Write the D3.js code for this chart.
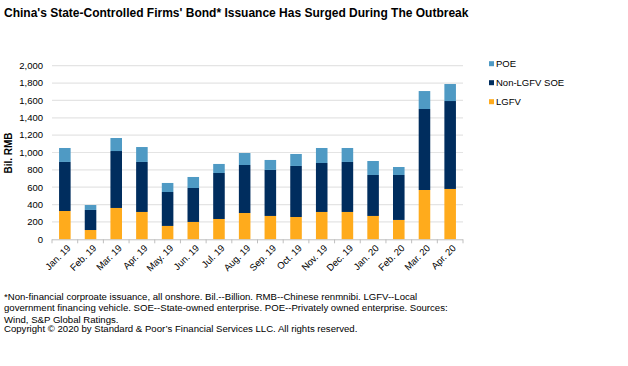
<!DOCTYPE html>
<html>
<head>
<meta charset="utf-8">
<script src="https://cdn.jsdelivr.net/npm/d3@7"></script>
<style>
  body { margin: 0; background: #fff; }
  svg text { font-family: "Liberation Sans", Arial, sans-serif; fill: #000; }
</style>
</head>
<body>
<div id="chart"></div>
<script>
// Data (Bil. RMB)
var months = ["Jan. 19", "Feb. 19", "Mar. 19", "Apr. 19", "May. 19", "Jun. 19", "Jul. 19", "Aug. 19",
              "Sep. 19", "Oct. 19", "Nov. 19", "Dec. 19", "Jan. 20", "Feb. 20", "Mar. 20", "Apr. 20"];
var lgfv   = [326, 107, 361, 315, 154, 200, 234, 303, 269, 257, 315, 315, 269, 223, 568, 580];
var soe    = [565, 231, 656, 576, 391, 391, 530, 553, 530, 588, 564, 576, 472, 518, 933, 1013];
var poe    = [161,  57, 150, 172, 104, 127, 104, 138, 115, 138, 173, 161, 161,  92, 207, 196];
var yTicks = [0, 200, 400, 600, 800, 1000, 1200, 1400, 1600, 1800, 2000];

var series = [
  { key: "LGFV", label: "LGFV", values: lgfv, color: "#FFAB1C" },
  { key: "SOE",  label: "Non-LGFV SOE", values: soe, color: "#002D5E" },
  { key: "POE",  label: "POE", values: poe, color: "#4F9AC4" }
];

// Parameters
var width = 628, height = 366,
    plotLeft = 52, plotRight = 463, plotTop = 65.7, plotBottom = 239.3;

var svg = d3.select("#chart").append("svg")
    .attr("width", width)
    .attr("height", height);

var x = d3.scaleBand().domain(months).range([plotLeft, plotRight]).paddingInner(0.55).paddingOuter(0.275);
var y = d3.scaleLinear().domain([0, 2000]).range([plotBottom, plotTop]);

// Title
svg.append("text")
    .attr("x", 4).attr("y", 17)
    .style("font-size", "12px").style("font-weight", "bold")
    .text("China's State-Controlled Firms' Bond* Issuance Has Surged During The Outbreak");

// Gridlines
svg.append("g").selectAll("line")
  .data(yTicks.filter(function(d) { return d > 0; }))
  .enter().append("line")
    .attr("x1", plotLeft).attr("x2", plotRight)
    .attr("y1", function(d) { return y(d); })
    .attr("y2", function(d) { return y(d); })
    .style("stroke", "#E4E4E4").style("stroke-width", 1.2);

// Y axis labels
svg.append("g").selectAll("text")
  .data(yTicks)
  .enter().append("text")
    .attr("x", 43)
    .attr("y", function(d) { return y(d); })
    .attr("dy", "0.35em")
    .attr("text-anchor", "end")
    .style("font-size", "9.5px")
    .text(d3.format(","));

svg.append("text")
    .attr("transform", "translate(12," + 153 + ") rotate(-90)")
    .attr("text-anchor", "middle")
    .style("font-size", "10px").style("font-weight", "bold")
    .text("Bil. RMB");

// Stacked bars
var stackData = months.map(function(m, i) {
  return { month: m, LGFV: lgfv[i], SOE: soe[i], POE: poe[i] };
});
var stack = d3.stack().keys(series.map(function(s) { return s.key; }))(stackData);

svg.append("g").selectAll("g")
  .data(stack)
  .enter().append("g")
    .style("fill", function(d, i) { return series[i].color; })
  .selectAll("rect")
  .data(function(d) { return d; })
  .enter().append("rect")
    .attr("x", function(d) { return x(d.data.month); })
    .attr("width", x.bandwidth())
    .attr("y", function(d) { return y(d[1]); })
    .attr("height", function(d) { return y(d[0]) - y(d[1]); });

// X axis
var step = x.step();
svg.append("line")
    .attr("x1", plotLeft).attr("x2", plotRight)
    .attr("y1", plotBottom + 0.5).attr("y2", plotBottom + 0.5)
    .style("stroke", "#BFBFBF").style("stroke-width", 1);

svg.append("g").selectAll("line")
  .data(d3.range(months.length + 1))
  .enter().append("line")
    .attr("x1", function(i) { return plotLeft + i * step; })
    .attr("x2", function(i) { return plotLeft + i * step; })
    .attr("y1", plotBottom).attr("y2", plotBottom + 4)
    .style("stroke", "#BFBFBF").style("stroke-width", 1);

svg.append("g").selectAll("text")
  .data(months)
  .enter().append("text")
    .attr("transform", function(d) {
      return "translate(" + (x(d) + x.bandwidth() / 2 + 4) + "," + (plotBottom + 7) + ") rotate(-45)";
    })
    .attr("text-anchor", "end")
    .attr("dy", "0.35em")
    .style("font-size", "9.5px")
    .text(function(d) { return d; });

// Legend
var legendItems = series.slice().reverse();
var legend = svg.append("g").selectAll("g")
  .data(legendItems)
  .enter().append("g")
    .attr("transform", function(d, i) { return "translate(489," + (63.7 + i * 19) + ")"; });

legend.append("rect")
    .attr("x", 0).attr("y", -2.5)
    .attr("width", 5).attr("height", 5)
    .style("fill", function(d) { return d.color; });

legend.append("text")
    .attr("x", 7).attr("dy", "0.35em")
    .style("font-size", "9.5px")
    .text(function(d) { return d.label; });

// Footnote
var notes = [
  { t: "*Non-financial corproate issuance, all onshore. Bil.--Billion. RMB--Chinese renmnibi. LGFV--Local", y: 299.5 },
  { t: "government financing vehicle. SOE--State-owned enterprise. POE--Privately owned enterprise. Sources:", y: 311 },
  { t: "Wind, S&P Global Ratings.", y: 322.5 },
  { t: "Copyright \u00A9 2020 by Standard & Poor\u2019s Financial Services LLC. All rights reserved.", y: 332 }
];
svg.append("g").selectAll("text")
  .data(notes)
  .enter().append("text")
    .attr("x", 4)
    .attr("y", function(d) { return d.y; })
    .style("font-size", "9.6px")
    .text(function(d) { return d.t; });
</script>
</body>
</html>
